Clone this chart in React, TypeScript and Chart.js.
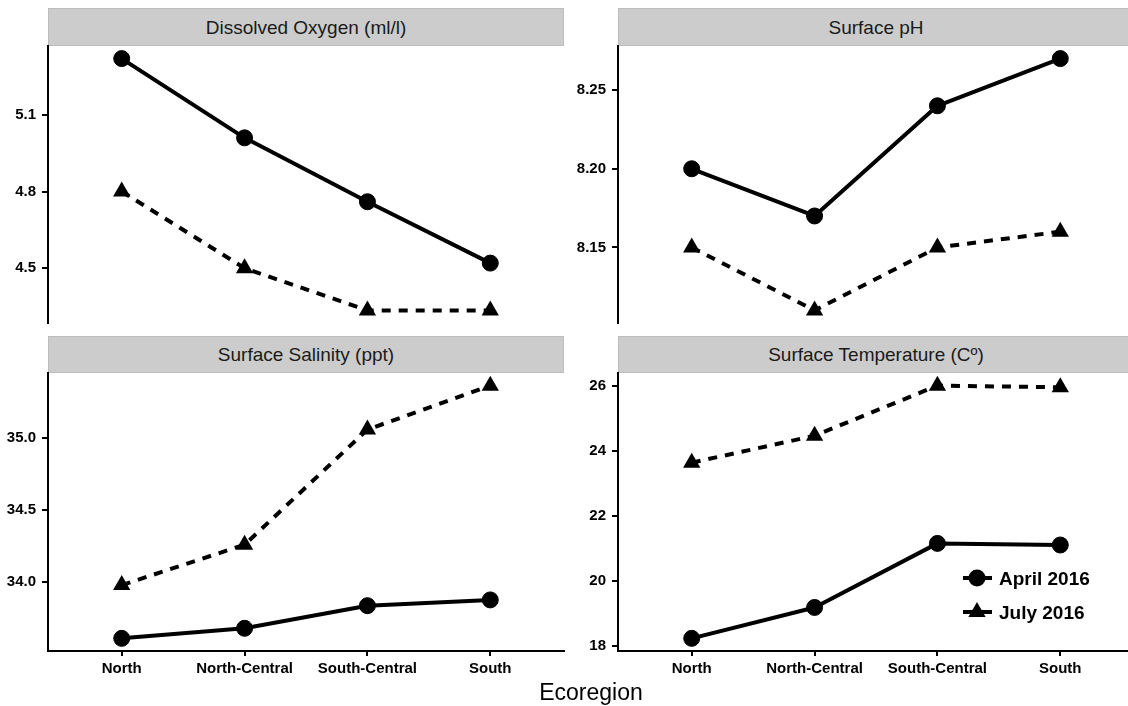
import React, { useEffect, useRef } from 'react';
import { Chart, registerables } from 'chart.js';

Chart.register(...registerables);

// ---------- data ----------
const ecoregions = ['North', 'North-Central', 'South-Central', 'South'];
const seriesNames = ['April 2016', 'July 2016'];

const oxygenApril = [5.32, 5.01, 4.76, 4.52];
const oxygenJuly = [4.8, 4.5, 4.335, 4.335];
const oxygenTicks = [4.5, 4.8, 5.1];

const phApril = [8.2, 8.17, 8.24, 8.27];
const phJuly = [8.15, 8.11, 8.15, 8.16];
const phTicks = [8.15, 8.2, 8.25];

const salinityApril = [33.61, 33.68, 33.837, 33.877];
const salinityJuly = [33.98, 34.26, 35.06, 35.365];
const salinityTicks = [34.0, 34.5, 35.0];

const tempApril = [18.23, 19.18, 21.15, 21.1];
const tempJuly = [23.63, 24.46, 26.0, 25.95];
const tempTicks = [18, 20, 22, 24, 26];

const panelTitles = [
  'Dissolved Oxygen (ml/l)',
  'Surface pH',
  'Surface Salinity (ppt)',
  'Surface Temperature (C\u00BA)',
];
const xTitle = 'Ecoregion';

// ---------- styling ----------
const FONT = '"Liberation Sans", Arial, Helvetica, sans-serif';
const PAD = 20;
const YW = 60;
const XH = 40;

type PanelProps = {
  april: number[];
  july: number[];
  ticks: number[];
  decimals: number;
  left: number;
  top: number;
  width: number;
  height: number;
  showX: boolean;
};

function Panel(p: PanelProps) {
  const ref = useRef<HTMLCanvasElement>(null);
  const cw = PAD + YW + p.width + PAD;
  const ch = PAD + p.height + PAD + (p.showX ? XH : 0);

  useEffect(() => {
    const all = [...p.april, ...p.july];
    const lo = Math.min(...all);
    const hi = Math.max(...all);
    const ex = (hi - lo) * 0.05;
    const chart = new Chart(ref.current as HTMLCanvasElement, {
      type: 'line',
      data: {
        datasets: [
          {
            label: seriesNames[0],
            data: p.april.map((v, i) => ({ x: i, y: v })),
            borderColor: '#000',
            backgroundColor: '#000',
            borderWidth: 4,
            borderJoinStyle: 'round',
            borderCapStyle: 'butt',
            pointStyle: 'circle',
            pointRadius: 8,
            pointHoverRadius: 8,
            pointBorderWidth: 1,
            pointBackgroundColor: '#000',
            pointBorderColor: '#000',
            tension: 0,
            clip: false,
          } as any,
          {
            label: seriesNames[1],
            data: p.july.map((v, i) => ({ x: i, y: v })),
            borderColor: '#000',
            backgroundColor: '#000',
            borderWidth: 4,
            borderDash: [9, 8],
            borderCapStyle: 'butt',
            pointStyle: 'triangle',
            pointRadius: 10,
            pointHoverRadius: 10,
            pointBorderWidth: 0,
            pointBackgroundColor: '#000',
            pointBorderColor: '#000',
            tension: 0,
            clip: false,
          } as any,
        ],
      },
      options: {
        animation: false,
        responsive: false,
        events: [],
        layout: { padding: PAD },
        plugins: {
          legend: { display: false },
          tooltip: { enabled: false },
        },
        scales: {
          x: {
            type: 'linear',
            min: -0.6,
            max: 3.6,
            display: p.showX,
            afterBuildTicks: (a: any) => {
              a.ticks = ecoregions.map((_, i) => ({ value: i }));
            },
            afterFit: (a: any) => {
              a.height = p.showX ? XH : 0;
            },
            ticks: {
              callback: (v: any) => ecoregions[Math.round(Number(v))],
              font: { family: FONT, size: 15, weight: 'bold' },
              color: '#000',
              padding: 4,
              maxRotation: 0,
              autoSkip: false,
            },
            grid: {
              display: true,
              drawOnChartArea: false,
              drawTicks: true,
              tickLength: 5,
              color: '#000',
              lineWidth: 2,
            },
            border: { display: true, color: '#000', width: 2 },
          },
          y: {
            type: 'linear',
            min: lo - ex,
            max: hi + ex,
            afterBuildTicks: (a: any) => {
              a.ticks = p.ticks.map((v) => ({ value: v }));
            },
            afterFit: (a: any) => {
              a.width = YW;
            },
            ticks: {
              callback: (v: any) => Number(v).toFixed(p.decimals),
              font: { family: FONT, size: 15, weight: 'bold' },
              color: '#000',
              padding: 6,
            },
            grid: {
              display: true,
              drawOnChartArea: false,
              drawTicks: true,
              tickLength: 6,
              color: '#000',
              lineWidth: 2,
            },
            border: { display: true, color: '#000', width: 2 },
          },
        },
      } as any,
    });
    return () => chart.destroy();
  }, []);

  return (
    <canvas
      ref={ref}
      width={cw}
      height={ch}
      style={{
        position: 'absolute',
        left: p.left - PAD - YW,
        top: p.top - PAD,
        width: cw,
        height: ch,
      }}
    />
  );
}

function Strip({ text, left, top, width, height }: { text: string; left: number; top: number; width: number; height: number }) {
  return (
    <div
      style={{
        position: 'absolute',
        left,
        top,
        width,
        height,
        boxSizing: 'border-box',
        background: '#CCCCCC',
        border: '1px solid #BDBDBD',
        display: 'flex',
        alignItems: 'center',
        justifyContent: 'center',
        fontFamily: FONT,
        fontSize: 19,
        lineHeight: '19px',
        color: '#1a1a1a',
        whiteSpace: 'nowrap',
      }}
    >
      {text}
    </div>
  );
}

function LegendRow({ label, top, shape }: { label: string; top: number; shape: 'circle' | 'triangle' }) {
  return (
    <div style={{ position: 'absolute', left: 961, top, height: 24, display: 'flex', alignItems: 'center' }}>
      <svg width={32} height={24} style={{ display: 'block' }}>
        <line x1={2} y1={12} x2={31} y2={12} stroke="#000" strokeWidth={4} />
        {shape === 'circle' ? (
          <circle cx={16} cy={12} r={8.5} fill="#000" />
        ) : (
          <polygon points="16,2 24.66,17 7.34,17" fill="#000" />
        )}
      </svg>
      <span
        style={{
          marginLeft: 6,
          fontFamily: FONT,
          fontWeight: 'bold',
          fontSize: 19,
          lineHeight: '19px',
          color: '#000',
          whiteSpace: 'nowrap',
        }}
      >
        {label}
      </span>
    </div>
  );
}

export default function App() {
  const L1 = 48;
  const L2 = 618;
  const W = 516;
  const T1 = 46;
  const H1 = 277;
  const T2 = 373;
  const H2 = 278;
  return (
    <div
      style={{
        position: 'fixed',
        left: 0,
        top: 0,
        width: 1128,
        height: 706,
        overflow: 'hidden',
        background: '#fff',
      }}
    >
      <Strip text={panelTitles[0]} left={L1} top={8} width={W} height={38} />
      <Strip text={panelTitles[1]} left={L2} top={8} width={W} height={38} />
      <Strip text={panelTitles[2]} left={L1} top={336} width={W} height={37} />
      <Strip text={panelTitles[3]} left={L2} top={336} width={W} height={37} />

      <Panel april={oxygenApril} july={oxygenJuly} ticks={oxygenTicks} decimals={1} left={L1} top={T1} width={W} height={H1} showX={false} />
      <Panel april={phApril} july={phJuly} ticks={phTicks} decimals={2} left={L2} top={T1} width={W} height={H1} showX={false} />
      <Panel april={salinityApril} july={salinityJuly} ticks={salinityTicks} decimals={1} left={L1} top={T2} width={W} height={H2} showX={true} />
      <Panel april={tempApril} july={tempJuly} ticks={tempTicks} decimals={0} left={L2} top={T2} width={W} height={H2} showX={true} />

      <LegendRow label={seriesNames[0]} top={566} shape="circle" />
      <LegendRow label={seriesNames[1]} top={600} shape="triangle" />

      <div
        style={{
          position: 'absolute',
          left: L1,
          width: L2 + W - L1,
          top: 681,
          textAlign: 'center',
          fontFamily: FONT,
          fontSize: 23,
          lineHeight: '23px',
          color: '#000',
        }}
      >
        {xTitle}
      </div>
    </div>
  );
}
